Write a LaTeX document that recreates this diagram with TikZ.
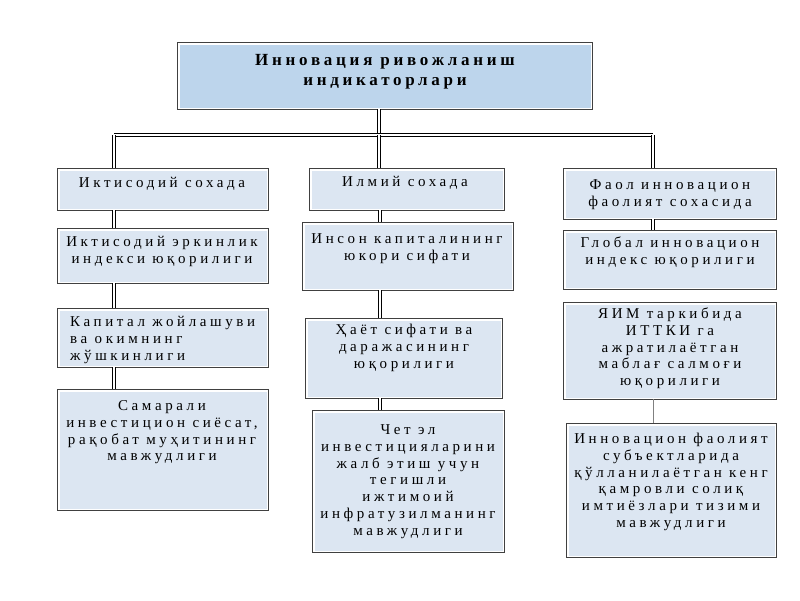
\documentclass[tikz,border=0pt]{standalone}
\usepackage{fontspec}
\setmainfont{Liberation Serif}
\definecolor{boxfill}{HTML}{DCE6F2}
\definecolor{topfill}{HTML}{BDD5EC}
\tikzset{
  frame/.style={draw=black!75, line width=0.6pt, inner sep=0pt,
    path picture={\fill[#1] ([xshift=3pt,yshift=-3pt]path picture bounding box.north west) rectangle ([xshift=-1pt,yshift=1pt]path picture bounding box.south east);}},
  txt/.style={inner sep=0pt, font=\fontsize{15}{16.7}\selectfont\addfontfeature{LetterSpace=24}},
  ttl/.style={inner sep=0pt, font=\fontsize{17}{20}\selectfont\bfseries\addfontfeature{LetterSpace=22}},
  dbl/.style={draw=black, line width=0.8pt, double=white, double distance=1.6pt},
  sgl/.style={draw=black!50, line width=0.7pt}
}
\newcommand\bx[6]{\node[frame=#6, minimum width={(#4-#2)*1pt}, minimum height={(#5-#3)*1pt}] (#1) at ({(#2+#4)/2},{(#3+#5)/2}) {};}
\newcommand\tx[6]{\node[txt, align=#4, anchor=#5] (#1) at ({#2},{#3-8}) {\strut #6};}
\begin{document}
\begin{tikzpicture}[x=1pt,y=-1pt]
\useasboundingbox (0,0) rectangle (800,600);
% boxes
\bx{T}{177}{42}{592}{109}{topfill}
\bx{A1}{57}{168}{268}{210}{boxfill}
\bx{A2}{57}{228}{268}{283}{boxfill}
\bx{A3}{57}{308}{268}{367}{boxfill}
\bx{A4}{57}{389}{268}{510}{boxfill}
\bx{B1}{309}{168}{504}{210}{boxfill}
\bx{B2}{302}{222}{513}{290}{boxfill}
\bx{B3}{305}{318}{502}{398}{boxfill}
\bx{B4}{312}{410}{504}{552}{boxfill}
\bx{C1}{563}{168}{776}{219}{boxfill}
\bx{C2}{563}{230}{776}{289}{boxfill}
\bx{C3}{563}{302}{776}{399}{boxfill}
\bx{C4}{566}{423}{776}{557}{boxfill}
% texts
\node[ttl, align=center, anchor=north] (Tt) at (385,51) {\strut Инновация ривожланиш\\индикаторлари};
\tx{A1t}{162}{184}{center}{north}{Иктисодий сохада}
\tx{A2t}{162}{243}{center}{north}{Иктисодий эркинлик\\индекси юқорилиги}
\tx{A3t}{70}{323}{left}{north west}{Капитал жойлашуви\\ва окимнинг\\жўшкинлиги}
\tx{A4t}{162}{407}{center}{north}{Самарали\\инвестицион сиёсат,\\рақобат муҳитининг\\мавжудлиги}
\tx{B1t}{405}{183}{center}{north}{Илмий сохада}
\tx{B2t}{407}{240}{center}{north}{Инсон капиталининг\\юкори сифати}
\tx{B3t}{404}{331}{center}{north}{Ҳаёт сифати ва\\даражасининг\\юқорилиги}
\tx{B4t}{408}{431}{center}{north}{Чет эл\\инвестицияларини\\жалб этиш учун\\тегишли\\ижтимоий\\инфратузилманинг\\мавжудлиги}
\tx{C1t}{670}{186}{center}{north}{Фаол инновацион\\фаолият сохасида}
\tx{C2t}{670}{244}{center}{north}{Глобал инновацион\\индекс юқорилиги}
\tx{C3t}{670}{315}{center}{north}{ЯИМ таркибида\\ИТТКИ га\\ажратилаётган\\маблағ салмоғи\\юқорилиги}
\tx{C4t}{671}{440}{center}{north}{Инновацион фаолият\\субъектларида\\қўлланилаётган кенг\\қамровли солиқ\\имтиёзлари тизими\\мавжудлиги}
% connectors
\coordinate (cA) at (114,0);
\coordinate (cT) at (379,0);
\coordinate (cB) at (380,0);
\coordinate (cC) at (653,0);
\coordinate (bus) at (0,135);
\draw[dbl] (T.south -| cT) -- (cT |- bus);
\draw[dbl] (cA |- bus) -- (cC |- bus);
\draw[dbl] (cA |- bus) -- (A1.north -| cA);
\draw[dbl] (cT |- bus) -- (B1.north -| cT);
\draw[dbl] (cC |- bus) -- (C1.north -| cC);
\draw[dbl] (A1.south -| cA) -- (A2.north -| cA);
\draw[dbl] (A2.south -| cA) -- (A3.north -| cA);
\draw[dbl] (A3.south -| cA) -- (A4.north -| cA);
\draw[dbl] (B1.south -| cB) -- (B2.north -| cB);
\draw[dbl] (B2.south -| cB) -- (B3.north -| cB);
\draw[dbl] (B3.south -| cB) -- (B4.north -| cB);
\draw[dbl] (C1.south -| cC) -- (C2.north -| cC);
\draw[sgl] (C3.south -| cC) -- (C4.north -| cC);
\end{tikzpicture}
\end{document}
